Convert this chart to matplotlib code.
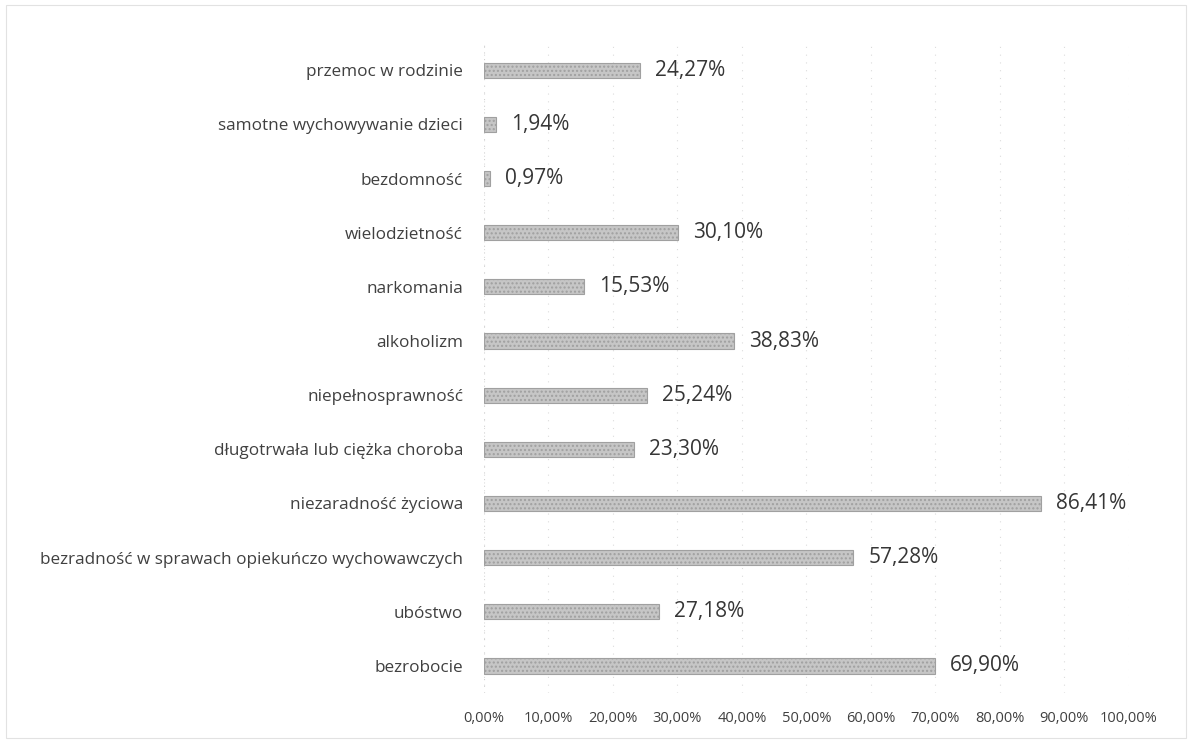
import matplotlib.pyplot as plt
from matplotlib.ticker import FuncFormatter

categories = [
    "bezrobocie",
    "ubóstwo",
    "bezradność w sprawach opiekuńczo wychowawczych",
    "niezaradność życiowa",
    "długotrwała lub ciężka choroba",
    "niepełnosprawność",
    "alkoholizm",
    "narkomania",
    "wielodzietność",
    "bezdomność",
    "samotne wychowywanie dzieci",
    "przemoc w rodzinie",
]
values = [69.90, 27.18, 57.28, 86.41, 23.30, 25.24, 38.83, 15.53, 30.10, 0.97, 1.94, 24.27]
x_ticks = [0, 10, 20, 30, 40, 50, 60, 70, 80, 90, 100]


def pl_pct(v):
    return f"{v:.2f}".replace(".", ",") + "%"


plt.rcParams['font.family'] = ['Open Sans', 'DejaVu Sans']

fig = plt.figure(figsize=(11.92, 7.44), dpi=100)
ax = fig.add_axes([0.406, 0.0685, 0.541, 0.8735])

y = range(len(categories))
ax.barh(y, values, height=0.28, color='#c6c6c6', edgecolor='#a0a0a0',
        linewidth=0.8, hatch='....', zorder=3)

for yi, v in zip(y, values):
    ax.text(v + 2.3, yi, pl_pct(v), va='center', ha='left', fontsize=15,
            color='#363636')

ax.set_xlim(0, 100)
ax.set_ylim(-0.5, len(categories) - 0.5)
ax.set_xticks(x_ticks)
ax.xaxis.set_major_formatter(FuncFormatter(lambda v, p: pl_pct(v)))
ax.set_yticks(list(y))
ax.set_yticklabels(categories)
ax.tick_params(axis='y', length=0, pad=15, labelsize=12.3, labelcolor='#404040')
ax.tick_params(axis='x', length=0, pad=13, labelsize=10.5, labelcolor='#404040')

ax.grid(axis='x', color='#dcdcdc', linestyle=(0, (1, 6)), linewidth=0.8, zorder=0)
for s in ax.spines.values():
    s.set_visible(False)
ax.axvline(0, color='#d0d0d0', linestyle=(0, (1, 5)), linewidth=0.8, zorder=1)

# faint frame of the chart area
fig.add_artist(plt.Rectangle((0.005, 0.008), 0.99, 0.985, transform=fig.transFigure,
                             fill=False, edgecolor='#e2e2e2', linewidth=0.8))

fig.savefig("out.png", dpi=100)
